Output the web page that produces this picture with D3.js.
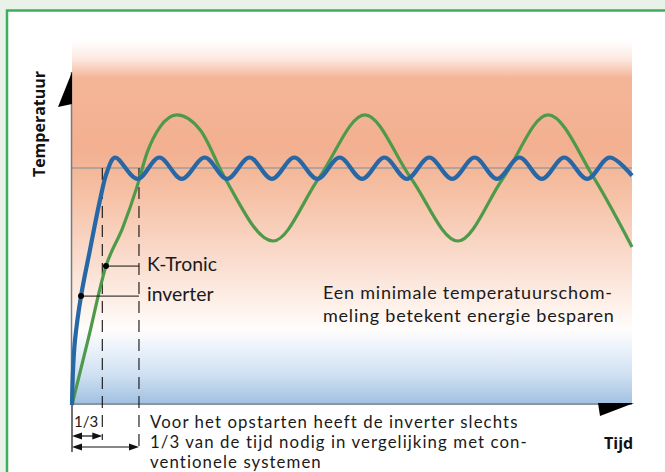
<!DOCTYPE html>
<html><head><meta charset="utf-8">
<script src="https://cdn.jsdelivr.net/npm/d3@7"></script>
<style>html,body{margin:0;padding:0;background:#e9f2e8;}svg{display:block;}</style>
</head><body>
<svg id="c" width="665" height="472"></svg>
<script>
// ---- data (time 0..100, temperature 0..100) ----
const setpoint = 71.8;
const blueTime = [0, 0.18, 0.54, 1.61, 3.21, 5.0, 6.25, 7.68, 11.7, 15.6, 19.6, 23.7, 27.7, 31.7, 35.7, 39.7, 43.8, 47.8, 51.8, 55.8, 59.8, 63.8, 67.9, 71.9, 75.9, 79.9, 83.9, 87.9, 92.0, 96.0, 100];
const blueTemp = [0, 10.6, 19.7, 33.0, 47.0, 62.1, 70.6, 75.0, 68.5, 75.0, 68.5, 75.0, 68.5, 75.0, 68.5, 75.0, 68.5, 75.0, 68.5, 75.0, 68.5, 75.0, 68.5, 75.0, 68.5, 75.0, 68.5, 75.0, 68.5, 75.0, 69.5];
const greenTime = [0, 2.86, 6.07, 9.1, 11.6, 13.4, 15.7, 18.75, 22.9, 27.3, 35.9, 44.1, 52.3, 60.5, 68.9, 77.0, 85.0, 93.2, 100];
const greenTemp = [0, 19.7, 42.1, 53.9, 66.1, 76.4, 84.2, 87.9, 83.3, 68.8, 49.7, 68.8, 87.9, 68.8, 49.7, 68.8, 87.9, 68.8, 47.9];
const startTimes = [5.41, 11.96];           // K-Tronic inverter vs conventional start-up
const labelDots = [{series: "green", t: 6.07, v: 42.1}, {series: "blue", t: 1.61, v: 33.0}];
const labelTexts = ["K-Tronic", "inverter"];
const noteLines = ["Een minimale temperatuurschom-", "meling betekent energie besparen"];
const footLines = ["Voor het opstarten heeft de inverter slechts", "1/3 van de tijd nodig in vergelijking met con-", "ventionele systemen"];
const ratioLabel = "1/3";
const yTitle = "Temperatuur";
const xTitle = "Tijd";

const svg = d3.select("#c");
const x = d3.scaleLinear().domain([0, 100]).range([72, 632]);
const y = d3.scaleLinear().domain([0, 100]).range([405, 75]);
const FONT = "Lato, 'Open Sans', sans-serif";
const BOLD = "'Open Sans', 'Liberation Sans', sans-serif";

// frame
svg.append("rect").attr("x", 0).attr("y", 0).attr("width", 665).attr("height", 472).attr("fill", "#e9f2e8");
svg.append("rect").attr("x", 7).attr("y", 10.5).attr("width", 670).attr("height", 480)
  .attr("fill", "#fff").attr("stroke", "#3fae5c").attr("stroke-width", 2.5);

// background gradient
const defs = svg.append("defs");
const gTop = 40, gBot = 405;
const stops = [[40, "#ffffff"], [58, "#fcebe3"], [78, "#f4b597"], [150, "#f2b090"], [200, "#f6c3a8"], [250, "#f9d8c8"], [300, "#fdeee6"], [330, "#fffdfc"], [345, "#eef4fb"], [375, "#cfe0f2"], [405, "#9fbfe1"]];
const grad = defs.append("linearGradient").attr("id", "bg").attr("gradientUnits", "userSpaceOnUse")
  .attr("x1", 0).attr("x2", 0).attr("y1", gTop).attr("y2", gBot);
stops.forEach(s => grad.append("stop").attr("offset", (s[0] - gTop) / (gBot - gTop)).attr("stop-color", s[1]));
svg.append("rect").attr("x", x(0)).attr("y", gTop).attr("width", x(100) - x(0)).attr("height", gBot - gTop).attr("fill", "url(#bg)");

// setpoint line
svg.append("line").attr("x1", x(0)).attr("x2", x(100)).attr("y1", y(setpoint)).attr("y2", y(setpoint))
  .attr("stroke", "#a19c9a").attr("stroke-width", 1.6);

// axes
svg.append("line").attr("x1", x(0) - 0.5).attr("x2", x(0) - 0.5).attr("y1", 72).attr("y2", y(0))
  .attr("stroke", "#7a7a7a").attr("stroke-width", 1.5);
svg.append("line").attr("x1", x(0)).attr("x2", x(100)).attr("y1", y(0) - 1).attr("y2", y(0) - 1)
  .attr("stroke", "#8c949c").attr("stroke-width", 2);
svg.append("polygon").attr("points", [[x(0), 72], [x(0) - 14, 107], [x(0), 104]].join(" ")).attr("fill", "#000");
svg.append("polygon").attr("points", [[598, 403], [634, 403], [600, 416]].join(" ")).attr("fill", "#000");

// dashed start-up markers
const dashEnds = [440, 452];
startTimes.forEach((t, i) => {
  svg.append("line").attr("x1", x(t)).attr("x2", x(t)).attr("y1", y(setpoint)).attr("y2", dashEnds[i])
    .attr("stroke", "#111").attr("stroke-width", 1.1).attr("stroke-dasharray", "12,7");
});

// curves
const lineG = d3.line().x(d => x(d[0])).y(d => y(d[1])).curve(d3.curveMonotoneX);
const lineB = d3.line().x(d => x(d[0])).y(d => y(d[1])).curve(d3.curveCatmullRom.alpha(0.5));
const green = greenTime.map((t, i) => [t, greenTemp[i]]);
const blue = blueTime.map((t, i) => [t, blueTemp[i]]);
svg.append("path").attr("d", lineG(green)).attr("fill", "none").attr("stroke", "#4f9a4a").attr("stroke-width", 3.2);
svg.append("path").attr("d", lineB(blue)).attr("fill", "none").attr("stroke", "#2867a6").attr("stroke-width", 4.2);

function fitSize(sel, targetW) {
  const w = sel.node().getComputedTextLength();
  return +sel.attr("font-size") * targetW / w;
}
function fitSpacing(sel, targetW) {
  const w = sel.node().getComputedTextLength();
  const n = sel.text().length;
  return (targetW - w) / (n - 1);
}

// labels with leader lines
const labelBaselines = [271, 301];
const labels = labelDots.map((d, i) => {
  const cy = y(d.v);
  svg.append("line").attr("x1", x(d.t)).attr("x2", x(startTimes[1])).attr("y1", cy).attr("y2", cy)
    .attr("stroke", "#111").attr("stroke-width", 1);
  svg.append("circle").attr("cx", x(d.t)).attr("cy", cy).attr("r", 3).attr("fill", "#000");
  return svg.append("text").attr("x", 147).attr("y", labelBaselines[i]).attr("font-family", FONT)
    .attr("font-size", 17).attr("fill", "#1a1a1a").text(labelTexts[i]);
});
const lfs = fitSize(labels[0], 70);
labels.forEach(l => l.attr("font-size", lfs));

// note
const note = noteLines.map((t, i) => svg.append("text").attr("x", 323).attr("y", 299 + i * 23)
  .attr("font-family", FONT).attr("font-size", 16).attr("fill", "#1a1a1a").text(t));
const nfs = Math.min(18, fitSize(note[0], 289));
note.forEach(n => n.attr("font-size", nfs));
const nls = fitSpacing(note[0], 289);
note.forEach(n => n.attr("letter-spacing", nls));

// foot text
const foot = footLines.map((t, i) => svg.append("text").attr("x", 150).attr("y", 428 + i * 20)
  .attr("font-family", FONT).attr("font-size", 16.8).attr("fill", "#1a1a1a").text(t));
const fls = fitSpacing(foot[0], 367);
foot.forEach(n => n.attr("letter-spacing", fls));

svg.append("text").attr("x", 74).attr("y", 427).attr("font-family", FONT).attr("font-size", 15)
  .attr("fill", "#1a1a1a").text(ratioLabel);

// dimension arrows
svg.append("line").attr("x1", x(0)).attr("x2", x(0)).attr("y1", y(0)).attr("y2", 452).attr("stroke", "#111").attr("stroke-width", 1.2);
const arrowY = [436, 447];
startTimes.forEach((t, i) => {
  const yy = arrowY[i], x0 = x(0), x1 = x(t);
  svg.append("line").attr("x1", x0 + 6).attr("x2", x1 - 6).attr("y1", yy).attr("y2", yy).attr("stroke", "#111").attr("stroke-width", 1.2);
  svg.append("polygon").attr("points", [[x0, yy], [x0 + 10, yy - 3.5], [x0 + 10, yy + 3.5]].join(" ")).attr("fill", "#111");
  svg.append("polygon").attr("points", [[x1, yy], [x1 - 10, yy - 3.5], [x1 - 10, yy + 3.5]].join(" ")).attr("fill", "#111");
});

// axis titles
svg.append("text").attr("x", 604).attr("y", 449).attr("font-family", BOLD).attr("font-weight", "bold")
  .attr("font-size", 16).attr("fill", "#111").text(xTitle);
svg.append("text").attr("transform", "translate(45,124) rotate(-90)").attr("text-anchor", "middle")
  .attr("font-family", BOLD).attr("font-weight", "bold").attr("font-size", 16).attr("fill", "#111").text(yTitle);
</script>
</body></html>
